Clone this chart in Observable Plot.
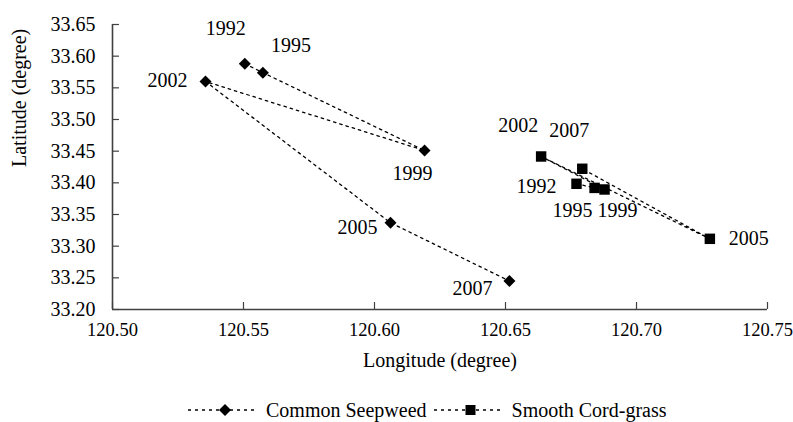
<!DOCTYPE html>
<html>
<head>
<meta charset="utf-8">
<script src="https://cdn.jsdelivr.net/npm/d3@7"></script>
<script src="https://cdn.jsdelivr.net/npm/@observablehq/plot@0.6"></script>
<style>
  html, body { margin: 0; padding: 0; background: #fff; }
  #chart { width: 793px; height: 422px; position: relative; overflow: hidden; }
  #chart svg text { font-family: "Liberation Serif", "DejaVu Serif", serif; }
  .legend { position: absolute; left: 188px; top: 398px; display: flex; align-items: center;
            font-family: "Liberation Serif", "DejaVu Serif", serif; font-size: 20px; color: #000; }
  .legend .item { display: flex; align-items: center; margin-right: 7px; }
  .legend svg { margin-right: 8px; }
</style>
</head>
<body>
<div id="chart"></div>
<script>
// ---- data ----
const years = [1992, 1995, 1999, 2002, 2005, 2007];
const seepweedLon = [120.5505, 120.5574, 120.6191, 120.5355, 120.6061, 120.6515];
const seepweedLat = [33.588, 33.574, 33.451, 33.560, 33.337, 33.245];
const cordgrassLon = [120.6771, 120.6840, 120.6878, 120.6636, 120.7280, 120.6793];
const cordgrassLat = [33.3985, 33.3920, 33.3895, 33.4416, 33.3116, 33.4222];
const seriesNames = ["Common Seepweed", "Smooth Cord-grass"];
const xTicks = [120.50, 120.55, 120.60, 120.65, 120.70, 120.75];
const yTicks = [33.20, 33.25, 33.30, 33.35, 33.40, 33.45, 33.50, 33.55, 33.60, 33.65];
const xTitle = "Longitude (degree)";
const yTitle = "Latitude (degree)";

// ---- label placement (style) ----
const seepLabelOffset = {1992: [-19, -35], 1995: [28, -27], 1999: [-12, 23], 2002: [-38, -1], 2005: [-33, 5], 2007: [-37, 8]};
const cordLabelOffset = {1992: [-40, 3], 1995: [-22, 23], 1999: [13, 21], 2002: [-23, -31], 2005: [39, 0], 2007: [-13, -38]};

const seep = years.map((yr, i) => ({year: yr, lon: seepweedLon[i], lat: seepweedLat[i]}));
const cord = years.map((yr, i) => ({year: yr, lon: cordgrassLon[i], lat: cordgrassLat[i]}));

const W = 793, H = 380, mL = 112, mR = 26, mT = 24, mB = 71;
const plotW = W - mL - mR, plotH = H - mT - mB;
const fmt = d3.format(".2f");
const axisColor = "#404040";
const dash = "2.5,4";
const FS = 20;

function labels(data, offsets) {
  return data.map(d => Plot.text([d], {
    x: "lon", y: "lat", text: d => String(d.year),
    dx: offsets[d.year][0], dy: offsets[d.year][1], fill: "#000"
  }));
}

const plot = Plot.plot({
  width: W, height: H,
  marginLeft: mL, marginRight: mR, marginTop: mT, marginBottom: mB,
  style: {fontFamily: "'Liberation Serif', 'DejaVu Serif', serif", fontSize: FS + "px", color: "#000", background: "#fff"},
  x: {domain: [120.50, 120.75]},
  y: {domain: [33.20, 33.65]},
  marks: [
    Plot.axisX({ticks: xTicks, tickFormat: fmt, tickSize: 0, tickPadding: 13, label: null, fontSize: 18.5}),
    Plot.axisY({ticks: yTicks, tickFormat: fmt, tickSize: 0, tickPadding: 17, label: null, fontSize: FS}),
    Plot.ruleX(xTicks, {x: d => d, insetTop: plotH - 7, stroke: axisColor, strokeWidth: 1.2}),
    Plot.ruleY(yTicks, {y: d => d, insetRight: plotW - 7, stroke: axisColor, strokeWidth: 1.2}),
    Plot.ruleX([120.50], {stroke: axisColor, strokeWidth: 1.6}),
    Plot.ruleY([33.20], {stroke: axisColor, strokeWidth: 1.6}),
    Plot.text([xTitle], {frameAnchor: "bottom", dy: 57, text: d => d, fontSize: FS}),
    Plot.text([yTitle], {frameAnchor: "left", dx: -93, rotate: -90, text: d => d, fontSize: FS}),
    Plot.line(seep, {x: "lon", y: "lat", stroke: "#000", strokeWidth: 1.3, strokeDasharray: dash}),
    Plot.line(cord, {x: "lon", y: "lat", stroke: "#000", strokeWidth: 1.3, strokeDasharray: dash}),
    Plot.dot(seep, {x: "lon", y: "lat", symbol: "diamond2", r: 5.4, fill: "#000", stroke: "none"}),
    Plot.dot(cord, {x: "lon", y: "lat", symbol: "square", r: 5.9, fill: "#000", stroke: "none"}),
    ...labels(seep, seepLabelOffset),
    ...labels(cord, cordLabelOffset)
  ]
});

const chart = document.getElementById("chart");
chart.appendChild(plot);

// legend
const legend = document.createElement("div");
legend.className = "legend";
const symbols = ["diamond", "square"];
seriesNames.forEach((name, i) => {
  const item = document.createElement("div");
  item.className = "item";
  const sym = symbols[i] === "diamond"
    ? `<path d="M37,6 L43,12 L37,18 L31,12 Z" fill="#000"/>`
    : `<rect x="31.5" y="7" width="10" height="10" fill="#000"/>`;
  item.innerHTML = `<svg width="70" height="24" viewBox="0 0 70 24">
      <line x1="0" x2="70" y1="12" y2="12" stroke="#000" stroke-width="1.3" stroke-dasharray="3,4"/>${sym}</svg><span>${name}</span>`;
  legend.appendChild(item);
});
chart.appendChild(legend);
</script>
</body>
</html>
